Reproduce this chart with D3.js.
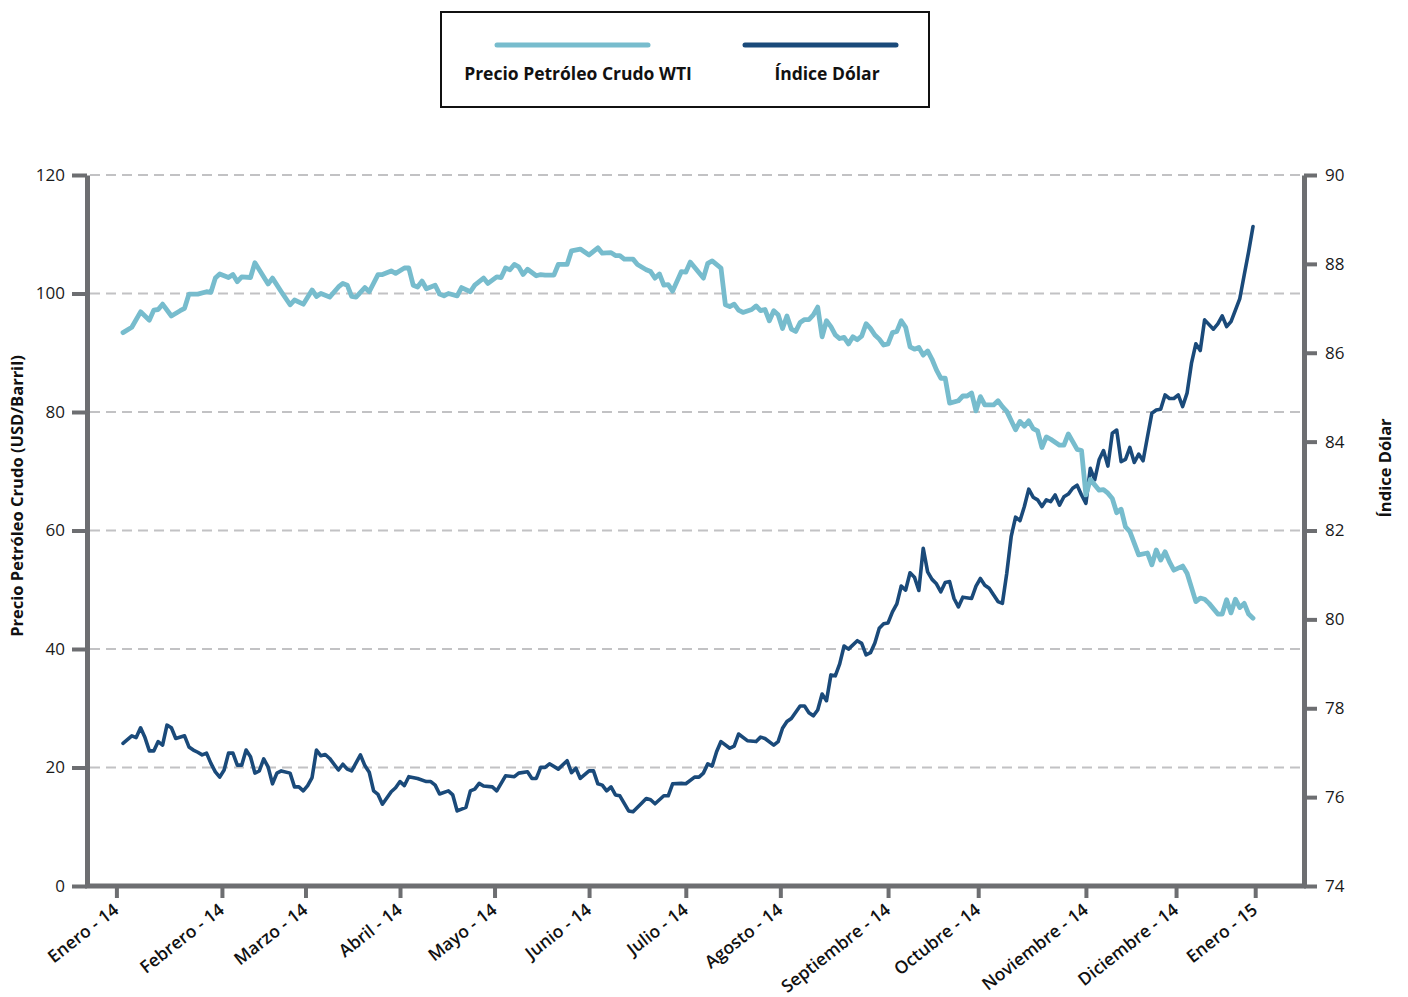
<!DOCTYPE html>
<html>
<head>
<meta charset="utf-8">
<script src="https://cdn.jsdelivr.net/npm/d3@7"></script>
<style>
  html, body { margin: 0; padding: 0; background: #ffffff; }
  svg { display: block; font-family: "Open Sans", "Noto Sans", sans-serif; }
</style>
</head>
<body>
<svg id="chart" width="1408" height="997"></svg>
<script>
// Trading-day index (0 = first session of January 2014) and closing values
const wtiDay = [0,2,4,6,7,8,9,11,13,14,15,17,19,20,21,22,24,25,26,27,29,30,33,34,36,38,39,41,43,44,45,47,49,50,51,52,53,55,56,58,59,61,62,64,65,66,67,68,69,71,72,73,74,76,77,79,80,82,83,85,86,87,88,89,90,91,92,94,95,96,98,99,101,102,104,106,108,109,111,112,113,114,116,117,119,120,121,122,123,124,125,127,128,129,132,133,134,136,137,138,139,140,141,143,144,145,146,147,148,149,150,151,152,153,154,155,156,157,158,159,160,161,162,163,164,165,166,167,168,169,170,171,172,173,174,175,176,177,178,179,180,181,182,183,184,185,186,187,188,190,191,192,193,194,195,196,198,199,200,201,203,204,205,206,207,208,209,210,211,213,214,215,216,217,218,219,220,221,222,223,224,225,226,227,228,229,231,233,234,235,236,237,238,239,241,242,243,244,245,246,247,249,250,251,252,253,254,255,256,257];
const wtiPrice = [93.4,94.3,96.9,95.5,97.2,97.3,98.2,96.2,97.1,97.5,99.9,99.9,100.3,100.2,102.6,103.3,102.7,103.2,102.0,102.8,102.7,105.2,101.6,102.6,100.3,98.1,98.9,98.2,100.6,99.5,100.0,99.4,101.1,101.7,101.4,99.5,99.4,101.0,100.3,103.2,103.2,103.8,103.4,104.3,104.3,101.4,101.1,102.1,100.8,101.4,99.9,99.6,100.0,99.6,101.0,100.3,101.4,102.6,101.7,102.8,102.7,104.3,104.0,104.9,104.5,103.2,104.1,103.0,103.2,103.1,103.1,104.9,104.9,107.2,107.5,106.5,107.7,106.8,106.9,106.4,106.4,105.8,105.8,104.9,104.0,103.7,102.6,103.3,101.4,101.5,100.4,103.7,103.6,105.3,102.6,105.1,105.5,104.3,98.1,97.8,98.2,97.2,96.8,97.3,97.9,97.1,97.3,95.4,97.1,96.4,94.1,96.2,94.0,93.6,95.1,95.6,95.6,96.4,97.7,92.7,95.4,94.4,93.0,92.4,92.6,91.5,92.7,92.2,92.8,94.9,94.1,93.0,92.3,91.3,91.5,93.4,93.6,95.4,94.3,91.0,90.6,90.9,89.6,90.3,88.9,87.1,85.7,85.7,81.5,81.9,82.7,82.7,83.2,80.2,82.6,81.2,81.2,81.9,80.9,80.1,77.0,78.4,77.6,78.5,77.2,76.8,74.0,75.8,75.4,74.4,74.4,76.3,75.0,73.7,73.5,66.0,68.6,67.7,66.8,66.9,66.3,65.4,63.0,63.6,60.6,59.8,55.9,56.2,54.2,56.7,55.0,56.4,54.7,53.3,54.0,52.8,50.4,48.0,48.6,48.4,47.7,45.9,45.9,48.3,46.1,48.4,47.0,47.7,45.9,45.2];

const usdDay = [0,2,3,4,5,6,7,8,9,10,11,12,14,15,16,17,18,19,20,21,22,23,24,25,26,27,28,29,30,31,32,33,34,35,36,38,39,40,41,42,43,44,45,46,47,49,50,51,52,54,55,56,57,58,59,61,62,63,64,65,67,69,70,71,72,74,75,76,78,79,80,81,82,84,85,87,89,90,92,93,94,95,96,97,99,101,102,103,104,106,107,108,109,110,111,112,113,114,115,116,118,119,120,121,123,124,125,127,128,130,131,132,133,134,135,136,138,139,140,142,144,145,146,148,149,150,151,152,154,155,156,157,158,159,160,161,162,163,164,165,167,168,169,170,171,172,173,174,175,176,177,178,179,180,181,182,183,184,185,186,187,188,189,190,191,193,194,195,196,197,199,200,201,202,203,204,205,206,207,208,209,210,211,212,213,214,215,216,217,218,219,220,221,222,223,224,225,226,227,228,229,230,231,232,233,234,235,236,237,238,239,240,241,242,243,244,245,246,248,249,250,251,252,253,254,255,256,257];
const usdIndex = [77.21,77.38,77.34,77.56,77.34,77.04,77.04,77.25,77.17,77.62,77.56,77.32,77.38,77.13,77.06,77.01,76.95,76.99,76.76,76.57,76.45,76.61,76.99,76.99,76.72,76.72,77.06,76.91,76.54,76.59,76.86,76.68,76.30,76.54,76.59,76.54,76.23,76.23,76.14,76.26,76.44,77.06,76.93,76.96,76.87,76.61,76.74,76.63,76.59,76.95,76.71,76.56,76.14,76.06,75.84,76.12,76.21,76.35,76.26,76.46,76.42,76.35,76.35,76.27,76.07,76.14,76.05,75.69,75.77,76.14,76.18,76.31,76.25,76.23,76.14,76.48,76.46,76.54,76.57,76.42,76.42,76.67,76.67,76.75,76.63,76.82,76.55,76.65,76.42,76.59,76.59,76.30,76.27,76.14,76.23,76.05,76.03,75.86,75.69,75.67,75.87,75.97,75.94,75.85,76.03,76.03,76.30,76.31,76.30,76.45,76.45,76.54,76.75,76.70,77.02,77.25,77.10,77.15,77.42,77.27,77.25,77.35,77.32,77.17,77.25,77.55,77.70,77.77,78.05,78.05,77.90,77.83,77.96,78.32,78.17,78.75,78.73,79.00,79.40,79.33,79.52,79.46,79.20,79.25,79.47,79.80,79.90,79.92,80.17,80.35,80.75,80.66,81.05,80.95,80.65,81.60,81.07,80.90,80.80,80.62,80.83,80.85,80.47,80.28,80.50,80.47,80.75,80.92,80.77,80.70,80.40,80.36,81.04,81.86,82.30,82.22,82.54,82.93,82.75,82.69,82.54,82.69,82.65,82.80,82.57,82.76,82.82,82.95,83.02,82.80,82.61,83.40,83.14,83.59,83.80,83.45,84.19,84.26,83.55,83.60,83.87,83.53,83.72,83.57,84.11,84.64,84.71,84.73,85.05,84.97,84.97,85.05,84.79,85.09,85.76,86.20,86.05,86.74,86.53,86.65,86.83,86.59,86.70,86.96,87.22,87.75,88.27,88.84];

// Month labels and where they fall on the trading-day axis
const monthLabels = ["Enero - 14","Febrero - 14","Marzo - 14","Abril - 14","Mayo - 14","Junio - 14","Julio - 14","Agosto - 14","Septiembre - 14","Octubre - 14","Noviembre - 14","Diciembre - 14","Enero - 15"];
const monthTickDay = [-1.5,22.5,41.5,63,84.5,106,128,149.5,174,194.5,219,239.5,257.5];

const priceTicks = [0,20,40,60,80,100,120];
const indexTicks = [74,76,78,80,82,84,86,88,90];

const seriesNames = ["Precio Petróleo Crudo WTI","Índice Dólar"];
const leftTitle = "Precio Petróleo Crudo (USD/Barril)";
const rightTitle = "Índice Dólar";

const C_WTI = "#77bccd";
const C_USD = "#1a4a7a";
const C_AXIS = "#6d6e71";
const C_GRID = "#c2c2c4";

const svg = d3.select("#chart");

const plot = { left: 87, right: 1304, top: 175, bottom: 886 };

const x = d3.scaleLinear().domain([0, 257]).range([123, 1253]);
const yL = d3.scaleLinear().domain([0, 120]).range([plot.bottom, plot.top]);
const yR = d3.scaleLinear().domain([74, 90]).range([plot.bottom, plot.top]);

// Dashed horizontal gridlines at the price ticks
svg.append("g")
  .selectAll("line")
  .data(priceTicks.filter(d => d > 0))
  .join("line")
  .attr("x1", plot.left + 3)
  .attr("x2", plot.right - 3)
  .attr("y1", d => yL(d))
  .attr("y2", d => yL(d))
  .attr("stroke", C_GRID)
  .attr("stroke-width", 2)
  .attr("stroke-dasharray", "10,6");

// Lines
const wtiData = wtiDay.map((d, i) => ({ d, v: wtiPrice[i] }));
const usdData = usdDay.map((d, i) => ({ d, v: usdIndex[i] }));

svg.append("path")
  .datum(usdData)
  .attr("fill", "none")
  .attr("stroke", C_USD)
  .attr("stroke-width", 3.6)
  .attr("stroke-linejoin", "round")
  .attr("stroke-linecap", "round")
  .attr("d", d3.line().x(p => x(p.d)).y(p => yR(p.v)));

svg.append("path")
  .datum(wtiData)
  .attr("fill", "none")
  .attr("stroke", C_WTI)
  .attr("stroke-width", 4.8)
  .attr("stroke-linejoin", "round")
  .attr("stroke-linecap", "round")
  .attr("d", d3.line().x(p => x(p.d)).y(p => yL(p.v)));

// Axes
function styleAxis(g) {
  g.select(".domain").attr("stroke", C_AXIS).attr("stroke-width", 5);
  g.selectAll(".tick line").attr("stroke", C_AXIS).attr("stroke-width", 4);
  g.selectAll(".tick text")
    .attr("fill", "#1a1a1a")
    .style("font-size", "17px")
    .style("font-family", "'Open Sans', sans-serif");
}

const axL = svg.append("g")
  .attr("transform", `translate(${plot.left},0)`)
  .call(d3.axisLeft(yL).tickValues(priceTicks).tickSize(15).tickSizeOuter(0).tickPadding(7));
styleAxis(axL);

const axR = svg.append("g")
  .attr("transform", `translate(${plot.right},0)`)
  .call(d3.axisRight(yR).tickValues(indexTicks).tickSize(13).tickSizeOuter(0).tickPadding(8));
styleAxis(axR);

// Bottom axis with month ticks
const axB = svg.append("g")
  .attr("transform", `translate(0,${plot.bottom})`)
  .call(d3.axisBottom(x).tickValues(monthTickDay).tickSize(12).tickSizeOuter(0).tickFormat((d, i) => monthLabels[i]));
axB.select(".domain")
  .attr("d", `M${plot.left - 2},0H${plot.right + 2}`)
  .attr("stroke", C_AXIS).attr("stroke-width", 5);
axB.selectAll(".tick line").attr("stroke", C_AXIS).attr("stroke-width", 4).attr("y1", 2);
axB.selectAll(".tick text")
  .attr("fill", "#111")
  .attr("text-anchor", "end")
  .attr("y", 0).attr("dy", 0)
  .attr("transform", "translate(3,26) rotate(-38)")
  .style("font-size", "17.5px")
  .style("font-weight", "600")
  .style("font-family", "'Open Sans', sans-serif");

// Axis titles
svg.append("text")
  .attr("transform", `translate(23,496) rotate(-90)`)
  .attr("text-anchor", "middle")
  .style("font-size", "16.5px")
  .style("font-weight", "700")
  .attr("fill", "#111")
  .text(leftTitle);

svg.append("text")
  .attr("transform", `translate(1391,468) rotate(-90)`)
  .attr("text-anchor", "middle")
  .style("font-size", "16.5px")
  .style("font-weight", "700")
  .attr("fill", "#111")
  .text(rightTitle);

// Legend
const legend = svg.append("g");
legend.append("rect")
  .attr("x", 441).attr("y", 12).attr("width", 488).attr("height", 95)
  .attr("fill", "#fff").attr("stroke", "#111").attr("stroke-width", 2);

const legendItems = [
  { name: seriesNames[0], color: C_WTI, cx: 572, tx: 578 },
  { name: seriesNames[1], color: C_USD, cx: 820, tx: 827 }
];
legendItems.forEach(it => {
  legend.append("line")
    .attr("x1", it.cx - 75).attr("x2", it.cx + 76)
    .attr("y1", 45).attr("y2", 45)
    .attr("stroke", it.color).attr("stroke-width", 5).attr("stroke-linecap", "round");
  legend.append("text")
    .attr("x", it.tx).attr("y", 80)
    .attr("text-anchor", "middle")
    .style("font-size", "17.5px")
    .style("font-weight", "700")
    .attr("fill", "#111")
    .text(it.name);
});
</script>
</body>
</html>
